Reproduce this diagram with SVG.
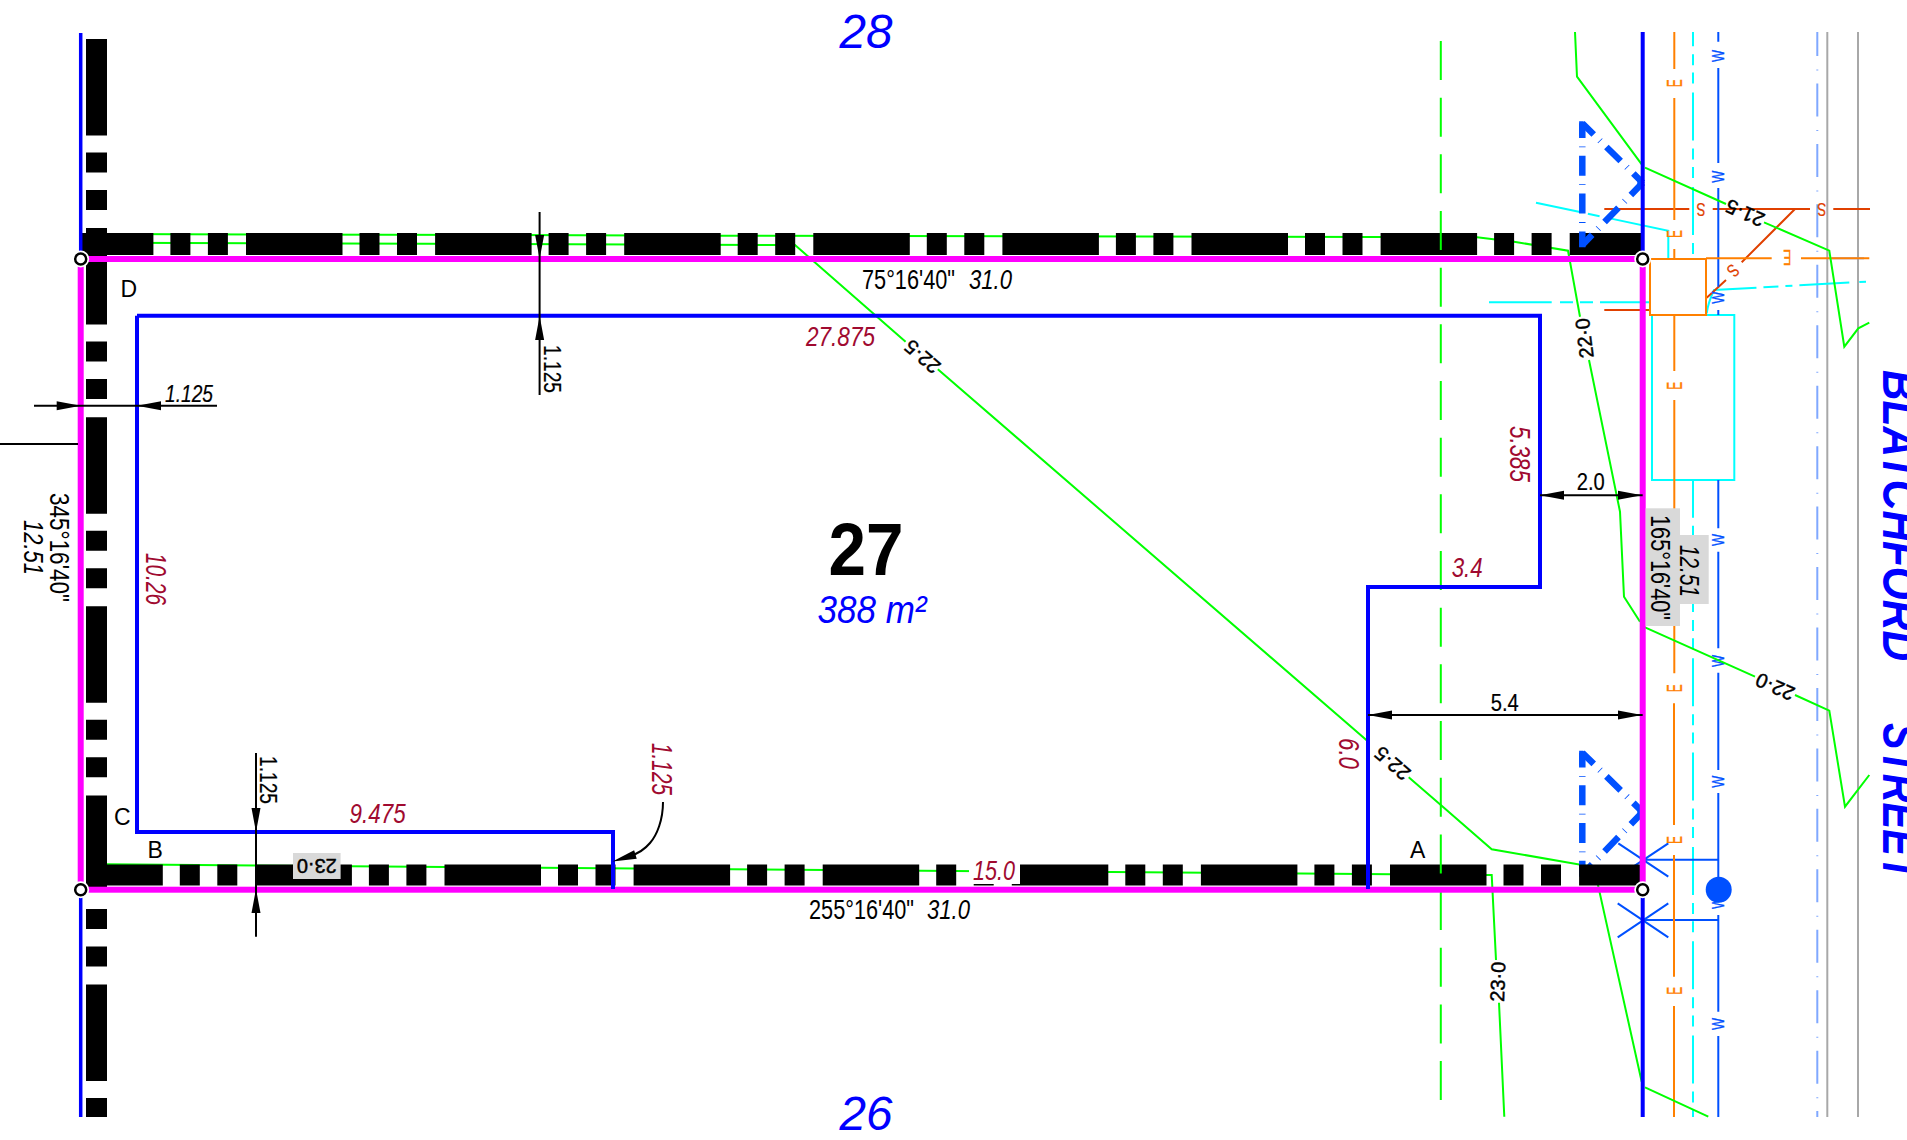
<svg xmlns="http://www.w3.org/2000/svg" xmlns:xlink="http://www.w3.org/1999/xlink" width="1907" height="1140" viewBox="0 0 1907 1140">
<style>
text{font-family:"Liberation Sans",Arial,sans-serif;fill:#000}
.i{font-style:italic}
.r{fill:#a00a30;font-style:italic;font-size:27px}
.rv{font-size:29px}
.d{font-size:28.5px}
.k{font-size:24px;stroke:#000;stroke-width:.2}
.c{font-size:20px;text-anchor:middle;stroke:#000;stroke-width:.45}
.bl{fill:#0000ff}
.E{fill:#ff8000;font-size:22px;text-anchor:middle;stroke:#ff8000;stroke-width:.3}
.W{fill:#0050ff;font-size:17px;text-anchor:middle;stroke:#0050ff;stroke-width:.35}
.S{fill:#e04000;font-size:18px;text-anchor:middle;stroke:#e04000;stroke-width:.2}
.g{fill:none;stroke:#00ff00;stroke-width:2}
.o{fill:none;stroke:#ff8000;stroke-width:2}
.w{fill:none;stroke:#0050ff;stroke-width:2}
.cy{fill:none;stroke:#00ffff;stroke-width:2}
.rd{fill:none;stroke:#e04000;stroke-width:2}
.gr{fill:none;stroke:#a8a8a8;stroke-width:2}
.lb{fill:none;stroke:#80a8ff;stroke-width:2}
.band{fill:none;stroke:#000;stroke-dasharray:96.5 17 20 17.5 20 18.1}
.tri{fill:none;stroke:#0050ff;stroke-width:6.5;stroke-dasharray:20 8.5 .8 8.5}
.m{fill:none;stroke:#ff00ff;stroke-width:6}
.b3{fill:none;stroke:#0000ff;stroke-width:4}
.dim{fill:none;stroke:#000;stroke-width:2}
.box{fill:#d9d9d9}
.pt{fill:#fff;stroke:#000;stroke-width:2.5}
</style>
<defs>
<polygon id="arr" points="0,0 -24,-4.5 -24,4.5" fill="#000"/>
<g id="triShape">
<path class="tri" stroke-dashoffset="5.3" d="M0,0V124"/>
<path class="tri" stroke-dashoffset="4" d="M0,0L60.4,59.4"/>
<path class="tri" stroke-dashoffset="3" d="M60.4,59.4L0,121.7"/>
<polygon points="-3.2,-2 1,-2 6,3 -3.2,13" fill="#0050ff"/>
<polygon points="55,54.5 62.5,59.4 55,65.5" fill="#0050ff"/>
</g>
</defs>
<rect width="1907" height="1140" fill="#fff"/>

<g id="services">
<line class="gr" x1="1827.3" y1="32" x2="1827.3" y2="1117"/>
<line class="gr" x1="1858" y1="32" x2="1858" y2="1117"/>
<line class="lb" x1="1817.3" y1="32" x2="1817.3" y2="1117" stroke-dasharray="33 13.5 1 12.95" stroke-dashoffset="9"/>
<line class="lb" x1="1832" y1="258.3" x2="1864" y2="258.3"/>

<g id="cyan">
<line class="cy" x1="1693" y1="32" x2="1693" y2="259" stroke-dasharray="48 8 11 7.3 11 9" stroke-dashoffset="33.7"/>
<line class="cy" x1="1693" y1="480" x2="1693" y2="1117" stroke-dasharray="48 8 11 7.3 11 9" stroke-dashoffset="10.3"/>
<path class="cy" d="M1536,202.7L1668.3,230.7V259" stroke-dasharray="45 8 12 7 100"/>
<path class="cy" d="M1489,302.3H1650" stroke-dasharray="62.7 8.3 13 7 13 7 50"/>
<path class="cy" d="M1706.7,313.3Q1708,303 1714,290L1866,281.7" stroke-dasharray="67 7 15 7 7 7 50 10 9"/>
<rect class="cy" x="1652" y="315" width="82.3" height="165"/>
</g>

<g id="sewer">
<path class="rd" d="M1604.3,209H1689.3M1712.7,209H1810M1833.3,209H1870M1795,209L1741.7,262.3M1726,280L1706.7,297.7M1604.3,310H1650"/>
<text class="S" transform="translate(1701,209) rotate(180)" y="6.5" textLength="9" lengthAdjust="spacingAndGlyphs">S</text>
<text class="S" transform="translate(1821.7,209) rotate(180)" y="6.5" textLength="9" lengthAdjust="spacingAndGlyphs">S</text>
<text class="S" transform="translate(1733.3,270.7) rotate(135)" y="6.5" textLength="9" lengthAdjust="spacingAndGlyphs">S</text>
</g>

<g id="water">
<path class="w" d="M1718.3,32V41.7M1718.3,68V163M1718.3,188V286.7M1718.3,310V315M1718.3,480V528.3M1718.3,551.7V648.3M1718.3,672.7V770M1718.3,793V890M1718.3,915V1011.7M1718.3,1036V1117"/>
<path class="w" d="M1645,859.7H1718.3M1642.7,920H1718.3M1618.3,843.3L1668.3,876.7M1668.3,843.3L1618.3,876.7M1617.7,903.3L1668.3,937.3M1668.3,903.3L1617.7,937.3"/>
<circle cx="1718.7" cy="889.7" r="13" fill="#0050ff"/>
<g>
<text class="W" transform="translate(1718.3,56) rotate(-90)" y="6" textLength="12" lengthAdjust="spacingAndGlyphs">W</text>
<text class="W" transform="translate(1718.3,176.7) rotate(-90)" y="6" textLength="12" lengthAdjust="spacingAndGlyphs">W</text>
<text class="W" transform="translate(1718.3,297.7) rotate(-90)" y="6" textLength="12" lengthAdjust="spacingAndGlyphs">W</text>
<text class="W" transform="translate(1718.3,540) rotate(-90)" y="6" textLength="12" lengthAdjust="spacingAndGlyphs">W</text>
<text class="W" transform="translate(1718.3,661) rotate(-90)" y="6" textLength="12" lengthAdjust="spacingAndGlyphs">W</text>
<text class="W" transform="translate(1718.3,781.7) rotate(-90)" y="6" textLength="12" lengthAdjust="spacingAndGlyphs">W</text>
<text class="W" transform="translate(1718.3,903) rotate(-90)" y="6" textLength="12" lengthAdjust="spacingAndGlyphs">W</text>
<text class="W" transform="translate(1718.3,1024) rotate(-90)" y="6" textLength="12" lengthAdjust="spacingAndGlyphs">W</text>
</g>
</g>

<g id="electric">
<path class="o" d="M1674.3,32V69M1674.3,98V220M1674.3,249V259M1706,258.3H1771.7M1801,258.3H1869.3M1674.3,315V371M1674.3,400V673.3M1674,703.3V825M1674,855V976.7M1674,1006V1117"/>
<rect class="o" x="1650" y="259" width="56" height="56" fill="none"/>
<text class="E" transform="translate(1674.3,83.3) rotate(-90)" y="7.8" textLength="8" lengthAdjust="spacingAndGlyphs">E</text>
<text class="E" transform="translate(1674.3,234) rotate(-90)" y="7.8" textLength="8" lengthAdjust="spacingAndGlyphs">E</text>
<text class="E" transform="translate(1787.3,258.3) rotate(180)" y="7.8" textLength="8" lengthAdjust="spacingAndGlyphs">E</text>
<text class="E" transform="translate(1674.3,385.7) rotate(-90)" y="7.8" textLength="8" lengthAdjust="spacingAndGlyphs">E</text>
<text class="E" transform="translate(1674,688.3) rotate(-90)" y="7.8" textLength="8" lengthAdjust="spacingAndGlyphs">E</text>
<text class="E" transform="translate(1674,840) rotate(-90)" y="7.8" textLength="8" lengthAdjust="spacingAndGlyphs">E</text>
<text class="E" transform="translate(1674,990.7) rotate(-90)" y="7.8" textLength="8" lengthAdjust="spacingAndGlyphs">E</text>
</g>
</g>

<g id="contours">
<path class="g" d="M1575,32L1577,76.7L1641.7,164.3M1645,167.7L1726,204M1764,222.3L1829.3,250.7L1844.3,346.7L1858.3,328.3L1869.3,322.7"/>
<path class="g" d="M107,234L723,235.7L1477,237.3L1514,241.7L1568,250.7L1580,316.7M1589,360L1620,511.7L1624,596.7L1640,621.7M1645,627.3L1755,676.7M1795,695L1829.3,710.7L1845,806.7L1869.3,775"/>
<path class="g" d="M107,242.7L795,245L905.6,341.7M937.8,369.3L1368.4,741.7M1408.7,777.3L1440.8,805L1491.7,849.3L1594,867L1641.7,1081.7M1645,1087.3L1708.3,1116.7"/>
<path class="g" d="M107,864.3L1484.3,875H1491.7L1496,960M1499,1002.7L1504.3,1116.7"/>
<text class="c" transform="translate(1584.3,338.3) rotate(-97)" y="7">22·0</text>
<text class="c" transform="translate(1775,686.7) rotate(204)" y="7">22·0</text>
<text class="c" transform="translate(1745,213) rotate(204)" y="7">21·5</text>
<text class="c" transform="translate(922.4,356.7) rotate(221)" y="7">22·5</text>
<text class="c" transform="translate(1392.3,763.3) rotate(221)" y="7">22·5</text>
<text class="c" transform="translate(1497.7,981.7) rotate(-88)" y="7">23·0</text>
</g>

<g id="tri-bottom"><use href="#triShape" xlink:href="#triShape" transform="translate(1582.3,752.7)"/></g>

<g id="fences">
<line class="band" stroke-width="22" x1="82" y1="244" x2="1642.7" y2="244" stroke-dashoffset="25.1"/>
<line class="band" stroke-width="21" x1="86" y1="875" x2="1640" y2="875" stroke-dashoffset="19.7"/>
<line class="band" stroke-width="21" x1="96.5" y1="39" x2="96.5" y2="1117"/>
</g>

<g id="tri-top"><use href="#triShape" xlink:href="#triShape" transform="translate(1582.3,123.3)"/></g>

<line id="green-dash" x1="1440.8" y1="41" x2="1440.8" y2="1100" stroke="#00ff00" stroke-width="2" stroke-dasharray="39 17.67"/>

<g id="boundary">
<path fill="none" stroke="#0000ff" stroke-width="3.5" d="M80.7,33V259M80.7,889V1117"/>
<path class="b3" d="M1642.7,32V259M1642.7,889V1117"/>
<rect class="m" x="80.7" y="259" width="1562" height="630.7"/>
</g>

<g id="building">
<path class="b3" d="M137,315.7H1540V587H1368V889"/>
<path class="b3" d="M137,315.7V832H613V889"/>
</g>

<g id="corners">
<circle cx="80.7" cy="259" r="8.5" fill="#fff"/><circle class="pt" cx="80.7" cy="259" r="5.5"/>
<circle cx="1642.7" cy="259" r="8.5" fill="#fff"/><circle class="pt" cx="1642.7" cy="259" r="5.5"/>
<circle cx="1642.7" cy="889.7" r="8.5" fill="#fff"/><circle class="pt" cx="1642.7" cy="889.7" r="5.5"/>
<circle cx="80.7" cy="889.7" r="8.5" fill="#fff"/><circle class="pt" cx="80.7" cy="889.7" r="5.5"/>
</g>

<g id="connectors">
<path class="dim" d="M34,405.7H217"/>
<use href="#arr" xlink:href="#arr" transform="translate(80.7,405.7)"/>
<use href="#arr" xlink:href="#arr" transform="translate(137,405.7) rotate(180)"/>
<path class="dim" stroke-width="1.5" d="M0,444H78"/>
<path class="dim" d="M539.6,212V395"/>
<use href="#arr" xlink:href="#arr" transform="translate(539.6,259) rotate(90)"/>
<use href="#arr" xlink:href="#arr" transform="translate(539.6,316) rotate(-90)"/>
<path class="dim" d="M256,753V936.7"/>
<use href="#arr" xlink:href="#arr" transform="translate(256,832) rotate(90)"/>
<use href="#arr" xlink:href="#arr" transform="translate(256,889) rotate(-90)"/>
<path class="dim" d="M1540,495.3H1642.7"/>
<use href="#arr" xlink:href="#arr" transform="translate(1540,495.3) rotate(180)"/>
<use href="#arr" xlink:href="#arr" transform="translate(1642,495.3)"/>
<path class="dim" d="M1368,715H1642.7"/>
<use href="#arr" xlink:href="#arr" transform="translate(1368,715) rotate(180)"/>
<use href="#arr" xlink:href="#arr" transform="translate(1642,715)"/>
<path class="dim" d="M663,802C663,820 657,835 650,843C645,849 640,853 630,856"/>
<use href="#arr" xlink:href="#arr" transform="translate(612.5,861.5) rotate(163)"/>
</g>

<g id="labels">
<text x="866" y="48" class="i bl" font-size="48" text-anchor="middle" textLength="53" lengthAdjust="spacingAndGlyphs">28</text>
<text x="866" y="1130" class="i bl" font-size="48" text-anchor="middle" textLength="53" lengthAdjust="spacingAndGlyphs">26</text>
<text x="866" y="575" font-size="74" font-weight="bold" text-anchor="middle" textLength="75" lengthAdjust="spacingAndGlyphs">27</text>
<text x="872" y="623" class="i bl" font-size="39" text-anchor="middle" textLength="109" lengthAdjust="spacingAndGlyphs">388 m²</text>

<text x="120.5" y="297.3" font-size="23">D</text>
<text x="114" y="825" font-size="23">C</text>
<text x="147.5" y="858" font-size="23">B</text>
<text x="1410" y="858" font-size="23">A</text>

<text class="k i" x="165" y="401.7" textLength="48" lengthAdjust="spacingAndGlyphs">1.125</text>
<text class="k" transform="translate(543.5,345) rotate(90)" textLength="48" lengthAdjust="spacingAndGlyphs">1.125</text>
<text class="k" transform="translate(259.5,756) rotate(90)" textLength="48" lengthAdjust="spacingAndGlyphs">1.125</text>

<text class="d" transform="translate(50,493) rotate(90)" textLength="109" lengthAdjust="spacingAndGlyphs">345°16'40"</text>
<text class="d i" transform="translate(24,520) rotate(90)" textLength="55" lengthAdjust="spacingAndGlyphs">12.51</text>

<text class="d" x="862" y="289" textLength="93" lengthAdjust="spacingAndGlyphs">75°16'40"</text>
<text class="d i" x="969" y="289" textLength="43" lengthAdjust="spacingAndGlyphs">31.0</text>
<text class="d" x="809" y="919" textLength="105" lengthAdjust="spacingAndGlyphs">255°16'40"</text>
<text class="d i" x="927" y="919" textLength="43" lengthAdjust="spacingAndGlyphs">31.0</text>

<text class="r" x="806" y="345.7" textLength="69" lengthAdjust="spacingAndGlyphs">27.875</text>
<text class="r rv" transform="translate(146,553) rotate(90)" textLength="52" lengthAdjust="spacingAndGlyphs">10.26</text>
<text class="r" x="349.6" y="822.7" textLength="56" lengthAdjust="spacingAndGlyphs">9.475</text>
<text class="r rv" transform="translate(652,743) rotate(90)" textLength="52" lengthAdjust="spacingAndGlyphs">1.125</text>
<rect x="969" y="858" width="51" height="26" fill="#fff"/>
<text class="r" x="973" y="880" textLength="42" lengthAdjust="spacingAndGlyphs">15.0</text>
<text class="r rv" transform="translate(1339,738) rotate(90)" textLength="31" lengthAdjust="spacingAndGlyphs">6.0</text>
<text class="r rv" transform="translate(1510,426) rotate(90)" textLength="56" lengthAdjust="spacingAndGlyphs">5.385</text>
<text class="r" x="1451.7" y="576.7" textLength="31" lengthAdjust="spacingAndGlyphs">3.4</text>

<text class="k" x="1576.7" y="490" textLength="28" lengthAdjust="spacingAndGlyphs">2.0</text>
<text class="k" x="1490.7" y="710.7" textLength="28" lengthAdjust="spacingAndGlyphs">5.4</text>

<rect class="box" x="293" y="853" width="47.6" height="26"/>
<text class="c" transform="translate(316.8,866) rotate(180)" y="7">23·0</text>

<rect class="box" x="1645.7" y="508.3" width="34.3" height="117.7"/>
<rect class="box" x="1680" y="535" width="28.7" height="69"/>
<text class="d" transform="translate(1651,515) rotate(90)" textLength="105" lengthAdjust="spacingAndGlyphs">165°16'40"</text>
<text class="d i" transform="translate(1680,545) rotate(90)" textLength="52" lengthAdjust="spacingAndGlyphs">12.51</text>

<text class="bl i" font-weight="bold" font-size="50" transform="translate(1883,370) rotate(90)" textLength="291" lengthAdjust="spacingAndGlyphs">BLATCHFORD</text>
<text class="bl i" font-weight="bold" font-size="50" transform="translate(1883,723) rotate(90)" textLength="157" lengthAdjust="spacingAndGlyphs">STREET</text>
</g>
</svg>
